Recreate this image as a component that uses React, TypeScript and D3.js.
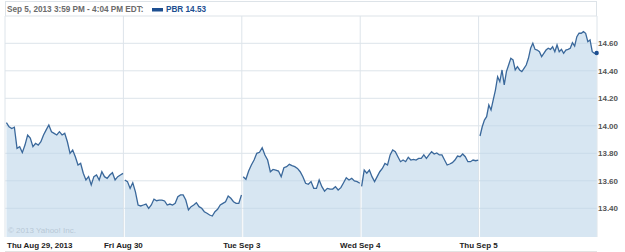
import React from "react";
import * as d3 from "d3";

const dayLabels = ["Thu Aug 29, 2013", "Fri Aug 30", "Tue Sep 3", "Wed Sep 4", "Thu Sep 5"];
const yTicks = [13.4, 13.6, 13.8, 14.0, 14.2, 14.4, 14.6];

const day1 = [14.023, 13.993, 13.98, 13.99, 13.836, 13.848, 13.805, 13.86, 13.933, 13.91, 13.848, 13.873, 13.86, 13.884, 13.933, 13.97, 14.006, 13.957, 13.945, 13.933, 13.957, 13.933, 13.945, 13.884, 13.8, 13.824, 13.775, 13.715, 13.727, 13.655, 13.606, 13.63, 13.57, 13.63, 13.642, 13.606, 13.666, 13.63, 13.618, 13.642, 13.659, 13.606, 13.63, 13.642, 13.654];
const day2 = [13.606, 13.594, 13.545, 13.586, 13.52, 13.424, 13.417, 13.424, 13.431, 13.4, 13.424, 13.467, 13.455, 13.46, 13.46, 13.453, 13.424, 13.431, 13.424, 13.436, 13.484, 13.497, 13.497, 13.46, 13.388, 13.412, 13.424, 13.441, 13.412, 13.4, 13.375, 13.364, 13.351, 13.344, 13.375, 13.393, 13.424, 13.436, 13.448, 13.489, 13.473, 13.448, 13.436, 13.436, 13.497];
const day3 = [13.63, 13.611, 13.671, 13.715, 13.751, 13.8, 13.807, 13.841, 13.788, 13.751, 13.666, 13.683, 13.678, 13.671, 13.63, 13.695, 13.703, 13.72, 13.71, 13.703, 13.69, 13.666, 13.63, 13.582, 13.575, 13.594, 13.545, 13.545, 13.606, 13.557, 13.525, 13.545, 13.54, 13.54, 13.557, 13.533, 13.55, 13.586, 13.622, 13.606, 13.618, 13.599, 13.594, 13.582];
const day4 = [13.56, 13.678, 13.655, 13.678, 13.63, 13.594, 13.63, 13.666, 13.69, 13.727, 13.715, 13.788, 13.824, 13.812, 13.775, 13.739, 13.751, 13.739, 13.771, 13.751, 13.756, 13.751, 13.763, 13.763, 13.788, 13.763, 13.788, 13.812, 13.795, 13.803, 13.788, 13.788, 13.751, 13.715, 13.722, 13.732, 13.751, 13.78, 13.775, 13.795, 13.775, 13.739, 13.739, 13.751, 13.746, 13.751];
const day5 = [13.926, 13.993, 14.042, 14.066, 14.151, 14.115, 14.188, 14.26, 14.357, 14.321, 14.406, 14.297, 14.394, 14.442, 14.491, 14.479, 14.406, 14.43, 14.406, 14.394, 14.418, 14.442, 14.491, 14.564, 14.6, 14.556, 14.551, 14.539, 14.503, 14.527, 14.551, 14.564, 14.556, 14.575, 14.539, 14.588, 14.539, 14.556, 14.527, 14.551, 14.556, 14.564, 14.604, 14.58, 14.648, 14.673, 14.673, 14.685, 14.673, 14.612, 14.624, 14.539, 14.527, 14.53];
const days = [day1, day2, day3, day4, day5];

const headerText = "Sep 5, 2013 3:59 PM - 4:04 PM EDT:";
const legendText = "PBR 14.53";
const copyright = "\u00a9 2013 Yahoo! Inc.";

const W = 625, H = 252;
const L = 5, R = 597, T = 16, B = 237;

export default function App() {
  const x = d3.scaleLinear().domain([0, 5]).range([L, R]);
  const y = d3.scaleLinear().domain([13.4, 14.6]).range([208.3, 43.3]);
  const font = "'Liberation Sans', Arial, sans-serif";

  const series = days.map((vals, d) =>
    vals.map((v, i) => ({ t: d + 0.012 + (i / (vals.length - 1)) * 0.985, v }))
  );
  const area = d3.area<{ t: number; v: number }>().x(p => x(p.t)).y0(B).y1(p => y(p.v));
  const line = d3.line<{ t: number; v: number }>().x(p => x(p.t)).y(p => y(p.v));
  const last = day5[day5.length - 1];

  return (
    <svg width={W} height={H} style={{ position: "absolute", left: 0, top: 0 }}>
      <rect x={0} y={0} width={W} height={H} fill="#fff" />
      <rect x={L + 0.5} y={1.5} width={R - L - 1} height={T - 1.5} fill="#fff" stroke="#dde3e8" />
      <text x={7} y={12} fontFamily={font} fontSize={8.2} fontWeight="bold" fill="#6b6b6b">{headerText}</text>
      <rect x={152} y={8} width={11} height={3.5} fill="#1d4f91" />
      <text x={166} y={12} fontFamily={font} fontSize={8.2} fontWeight="bold" fill="#1d4f91">{legendText}</text>
      {yTicks.map(t => (
        <line key={t} x1={L} x2={R} y1={y(t)} y2={y(t)} stroke="#dde4ea" strokeWidth={1} />
      ))}
      {d3.range(0, 6).map(d => (
        <line key={d} x1={x(d)} x2={x(d)} y1={T} y2={B} stroke="#dde4ea" strokeWidth={1} />
      ))}
      {series.map((s, i) => (
        <path key={"a" + i} d={area(s) || ""} fill="#bcd6e9" fillOpacity={0.6} />
      ))}
      {series.map((s, i) => (
        <path key={"l" + i} d={line(s) || ""} fill="none" stroke="#3a689b" strokeWidth={1.3} />
      ))}
      <circle cx={x(4.997)} cy={y(last)} r={2.2} fill="#1d4f91" />
      <text x={8} y={233} fontFamily={font} fontSize={8} fill="#b8c8d6">{copyright}</text>
      {yTicks.map(t => (
        <text key={t} x={598} y={y(t) + 3} fontFamily={font} fontSize={8} fontWeight="bold" fill="#555">{t.toFixed(2)}</text>
      ))}
      {dayLabels.map((lab, i) => (
        <text key={lab} x={i === 0 ? 7 : x(i)} y={248} textAnchor={i === 0 ? "start" : "middle"} fontFamily={font} fontSize={8} fontWeight="bold" fill="#222">{lab}</text>
      ))}
      <line x1={L} x2={R} y1={251.5} y2={251.5} stroke="#e3e3e3" />
    </svg>
  );
}
